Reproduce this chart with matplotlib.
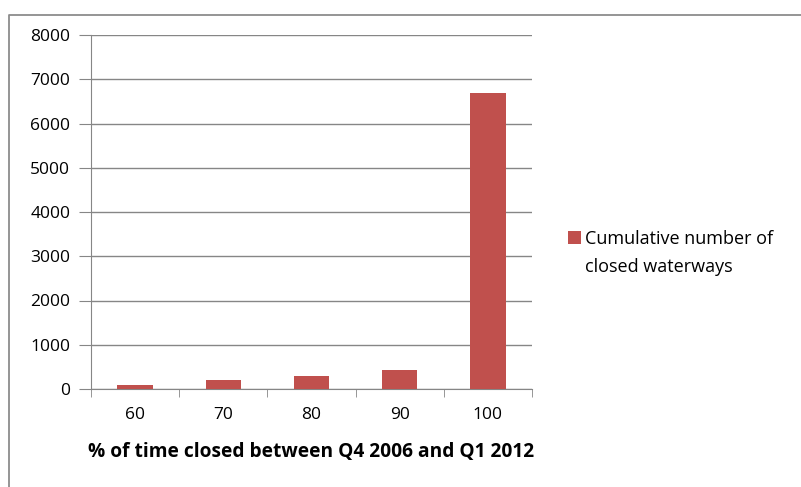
import matplotlib.pyplot as plt
import numpy as np
from matplotlib.lines import Line2D

categories = ["60", "70", "80", "90", "100"]
closed_counts = [95, 210, 285, 435, 6680]
y_ticks = [0, 1000, 2000, 3000, 4000, 5000, 6000, 7000, 8000]
series_label = ["Cumulative number of", "closed waterways"]

plt.rcParams['font.family'] = ['Open Sans', 'DejaVu Sans']

fig = plt.figure(figsize=(8.01, 4.87), dpi=100)
ax = fig.add_axes([91 / 801, 1 - 389 / 487, 441 / 801, 354 / 487])

# outer chart border: only left and top edges show
fig.lines.append(Line2D([9 / 801, 9 / 801, 1], [0, 1 - 15 / 487, 1 - 15 / 487],
                        transform=fig.transFigure, color="#8c8c8c", linewidth=1.3))

x = np.arange(len(categories))
ax.bar(x, closed_counts, width=0.4, color="#C0504D", zorder=3, label=series_label[0])

ax.set_xlim(-0.5, len(categories) - 0.5)
ax.set_ylim(0, 8000)
ax.set_yticks(y_ticks)
ax.set_yticklabels([str(v) for v in y_ticks], fontsize=12.5)
ax.set_xticks(x)
ax.set_xticklabels(categories, fontsize=12.5)
ax.set_xticks(np.arange(len(categories) + 1) - 0.5, minor=True)
ax.tick_params(axis="x", which="major", length=0, pad=13)
ax.tick_params(axis="x", which="minor", length=6, color="#868686")
ax.tick_params(axis="y", length=9, color="#868686", pad=6)

ax.grid(axis="y", color="#868686", linewidth=1, zorder=0)
for side in ["top", "right"]:
    ax.spines[side].set_visible(False)
for side in ["left", "bottom"]:
    ax.spines[side].set_color("#868686")

ax.set_xlabel("% of time closed between Q4 2006 and Q1 2012", fontsize=13.8,
              fontweight="bold", labelpad=14)

leg = ax.legend(loc="center left", bbox_to_anchor=(1.061, 0.425), frameon=False,
                fontsize=13, handlelength=0.75, handleheight=0.75,
                handletextpad=0.2, borderpad=0)
fig.text(585 / 801, 1 - 267 / 487, series_label[1], fontsize=13, va="center", ha="left")

fig.savefig("out.png", dpi=100)
